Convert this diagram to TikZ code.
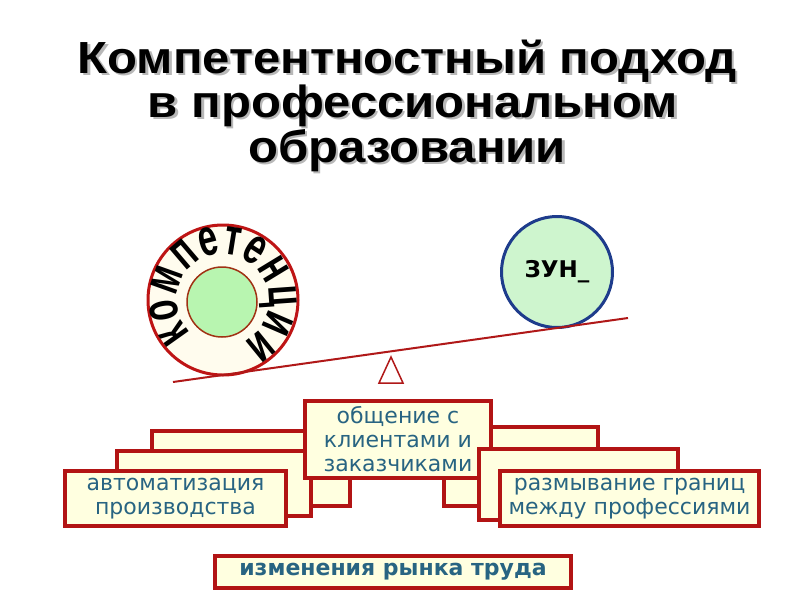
\documentclass[tikz,border=0pt]{standalone}
\usepackage{fontspec}
\setmainfont{DejaVu Sans}
\newfontfamily\titlefont[FakeStretch=1.09]{Liberation Sans}
\newfontfamily\ringfont[FakeStretch=0.66]{Liberation Sans}
\usetikzlibrary{decorations.text}
\pgfdeclarelayer{background}
\pgfsetlayers{background,main}
\definecolor{boxred}{RGB}{178,20,20}
\definecolor{boxfill}{RGB}{255,255,224}
\definecolor{txtblue}{RGB}{40,100,130}
\definecolor{ringred}{RGB}{190,20,20}
\definecolor{ringfill}{RGB}{255,252,238}
\definecolor{greenfill}{RGB}{184,245,176}
\definecolor{zungreen}{RGB}{206,245,206}
\definecolor{zunblue}{RGB}{30,60,140}
\definecolor{innerbrown}{RGB}{160,50,20}
\definecolor{beamred}{RGB}{176,24,24}
\begin{document}
\begin{tikzpicture}[x=1pt,y=1pt,
  cbox/.style={draw=boxred, line width=4pt, fill=boxfill, inner sep=0pt},
  btext/.style={text=txtblue, font=\fontsize{22}{24}\selectfont, align=center},
  link/.style={draw=boxred, line width=5pt},
  ttl/.style={font=\titlefont\bfseries\fontsize{45}{45}\selectfont, inner sep=0pt, anchor=base},
  shadowttl/.style={ttl, text=black!28}
]
\useasboundingbox[fill=white] (0,0) rectangle (800,-600);

% title
\node[shadowttl] (t1s) at (409.5,-75.5) {Компетентностный подход};
\node[shadowttl] (t2s) at (415.5,-119.5) {в профессиональном};
\node[shadowttl] (t3s) at (409.5,-164.5) {образовании};
\node[ttl] (t1) at (407,-73) {Компетентностный подход};
\node[ttl] (t2) at (413,-117) {в профессиональном};
\node[ttl] (t3) at (407,-162) {образовании};

% balance
\node[circle, draw=ringred, line width=3pt, fill=ringfill, minimum size=150pt, inner sep=0pt] (ring) at (223,-300) {};
\node[circle, draw=innerbrown, line width=1.5pt, fill=greenfill, minimum size=70pt, inner sep=0pt] (core) at (222,-302) {};
\path[decorate, decoration={text along path,
   text={|\ringfont\bfseries\fontsize{52}{52}\selectfont|компетенции},
   text align={fit to path}}]
   (ring.center) ++(226:46) arc[start angle=226, end angle=-64, radius=46];
\node[circle, draw=zunblue, line width=3pt, fill=zungreen, minimum size=111pt, inner sep=0pt,
      font=\bfseries\fontsize{23}{23}\selectfont] (zun) at (557,-272) {ЗУН\_};
\coordinate (beamL) at (173,-382);
\coordinate (beamR) at (628,-318);
\draw[beamred, line width=2pt] (beamL) -- (beamR);
\coordinate (f1) at (391,-357);
\coordinate (f2) at (379,-383);
\coordinate (f3) at (403,-383);
\draw[beamred, line width=1.5pt, fill=white, line join=miter] (f1) -- (f2) -- (f3) -- cycle;

% boxes
\node[cbox, minimum width=198pt, minimum height=75pt] (B1) at (251,-468.5) {};
\node[cbox, minimum width=154pt, minimum height=79pt] (B4) at (521,-466.5) {};
\node[cbox, minimum width=194pt, minimum height=65pt] (B2) at (214,-483.5) {};
\node[cbox, minimum width=186pt, minimum height=77pt, btext] (T) at (398,-439.5) {общение с\\клиентами и\\заказчиками};
\node[cbox, minimum width=199pt, minimum height=71pt] (B5) at (578.5,-484.5) {};
\node[cbox, minimum width=221pt, minimum height=55pt, btext] (B3) at (175.5,-498.5) {автоматизация\\производства};
\node[cbox, minimum width=259pt, minimum height=55pt, btext] (B6) at (629.5,-498.5) {размывание границ\\между профессиями};
\node[cbox, minimum width=356pt, minimum height=32pt, text=txtblue, font=\bfseries\fontsize{22}{24}\selectfont] (BB) at (393,-572) {изменения рынка труда};

% links
\begin{pgfonlayer}{background}
\draw[link] ([xshift=71.5pt]B3.south) -- ([xshift=-113pt]BB.north);
\draw[link] ([xshift=83pt]B2.south) -- ([xshift=-56pt]BB.north);
\draw[link] ([xshift=89pt]B1.south) -- ([xshift=-18pt]BB.north);
\draw[link] ([xshift=4pt]T.south) -- ([xshift=9pt]BB.north);
\draw[link] ([xshift=-76pt]B4.south) -- ([xshift=42pt]BB.north);
\draw[link] ([xshift=-100.5pt]B5.south) -- ([xshift=69pt]BB.north);
\draw[link] ([xshift=-109.5pt]B6.south) -- ([xshift=92pt]BB.north);
\end{pgfonlayer}
\end{tikzpicture}
\end{document}
